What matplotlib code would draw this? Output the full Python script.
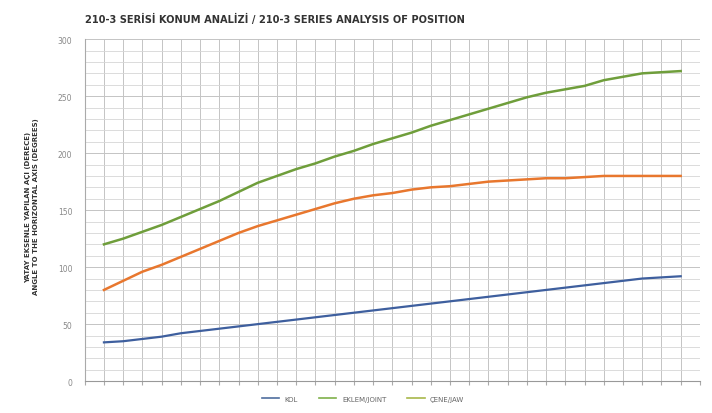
import numpy as np
import matplotlib.pyplot as plt
from matplotlib.lines import Line2D

# --- DATA ---
kol = [34, 35, 37, 39, 42, 44, 46, 48, 50, 52, 54, 56, 58, 60, 62, 64,
       66, 68, 70, 72, 74, 76, 78, 80, 82, 84, 86, 88, 90, 91, 92]
eklem = [80, 88, 96, 102, 109, 116, 123, 130, 136, 141, 146, 151, 156, 160, 163, 165,
         168, 170, 171, 173, 175, 176, 177, 178, 178, 179, 180, 180, 180, 180, 180]
cene = [120, 125, 131, 137, 144, 151, 158, 166, 174, 180, 186, 191, 197, 202, 208, 213,
        218, 224, 229, 234, 239, 244, 249, 253, 256, 259, 264, 267, 270, 271, 272]
legend_labels = ['KOL', 'EKLEM/JOINT', 'ÇENE/JAW']
y_ticks = [0, 50, 100, 150, 200, 250, 300]

# --- Plot Setup ---
fig = plt.figure(figsize=(7.12, 4.14), dpi=100)
ax = fig.add_axes([0.119, 0.077, 0.864, 0.826])
x = np.arange(len(kol))

ax.plot(x, kol, color='#3E5F9E', lw=1.6)
ax.plot(x, eklem, color='#E8772E', lw=1.8)
ax.plot(x, cene, color='#6F9E3B', lw=1.8)

ax.set_xlim(-1, len(kol))
ax.set_ylim(0, 300)
ax.set_xticks(np.arange(-1, len(kol) + 1))
ax.set_xticklabels([])
ax.set_yticks(y_ticks)
ax.set_yticks(np.arange(0, 301, 10), minor=True)
ax.tick_params(axis='y', which='both', length=0, labelsize=5.5, labelcolor='#888888', pad=9)
ax.tick_params(axis='x', length=3, color='#aaaaaa')
ax.grid(True, which='major', color='#c4c4c4', lw=0.7)
ax.grid(True, which='minor', axis='y', color='#d6d6d6', lw=0.6)
ax.set_axisbelow(True)
for side in ['top', 'right']:
    ax.spines[side].set_visible(False)
ax.spines['left'].set_color('#aaaaaa')
ax.spines['bottom'].set_color('#999999')

fig.text(0.12, 0.954, '210-3 SERİSİ KONUM ANALİZİ / 210-3 SERIES ANALYSIS OF POSITION',
         fontsize=7.1, fontweight='bold', color='#333333', va='center')
fig.text(0.045, 0.5, 'YATAY EKSENLE YAPILAN AÇI (DERECE)\nANGLE TO THE HORIZONTAL AXIS (DEGREES)',
         rotation=90, fontsize=5, fontweight='bold', color='#333333', ha='center', va='center')

# legend colours as they appear in the picture
handles = [Line2D([], [], color='#4F6E9E', lw=1.2),
           Line2D([], [], color='#7FB04A', lw=1.2),
           Line2D([], [], color='#A8B84A', lw=1.2)]
fig.legend(handles, legend_labels, loc='center', bbox_to_anchor=(0.51, 0.034), ncol=3,
           frameon=False, fontsize=5, handlelength=2.5, columnspacing=3,
           labelcolor='#666666')

fig.savefig('out.png', dpi=100)
